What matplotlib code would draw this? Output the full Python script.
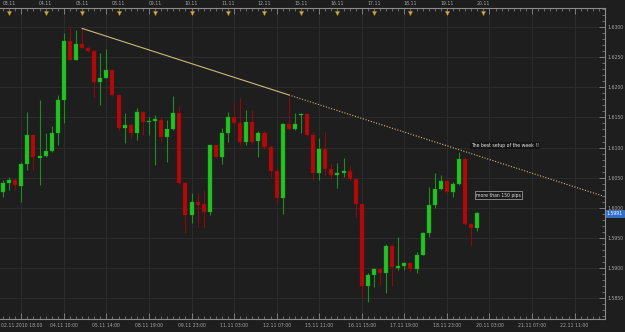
import matplotlib
matplotlib.use("Agg")
import matplotlib.pyplot as plt
from matplotlib.ticker import FixedLocator, MultipleLocator
import numpy as np

# H4 candles, 02.11.2010 .. 19.11.2010
opens = [1.6026, 1.6041, 1.6046, 1.6036, 1.6073, 1.6121, 1.6083, 1.6086, 1.6094, 1.6124,
         1.6179, 1.6277, 1.6246, 1.6272, 1.6266, 1.6261, 1.6209, 1.6216, 1.6229, 1.6187,
         1.6133, 1.6138, 1.6124, 1.6159, 1.6143, 1.6144, 1.6146, 1.6118, 1.6131, 1.6158,
         1.6041, 1.5988, 1.6010, 1.6006, 1.5993, 1.6104, 1.6084, 1.6124, 1.6151, 1.6141,
         1.6109, 1.6143, 1.6111, 1.6124, 1.6101, 1.6061, 1.6016, 1.6139, 1.6131, 1.6154,
         1.6156, 1.6121, 1.6058, 1.6098, 1.6064, 1.6055, 1.6058, 1.6061, 1.6048, 1.6006,
         1.5870, 1.5888, 1.5898, 1.5892, 1.5937, 1.5900, 1.5903, 1.5908, 1.5898, 1.5922,
         1.5958, 1.6005, 1.6031, 1.6045, 1.6026, 1.6040, 1.6081, 1.5973, 1.5966]
highs = [1.6046, 1.6051, 1.6049, 1.6076, 1.6159, 1.6123, 1.6179, 1.6124, 1.6136, 1.6187,
         1.6291, 1.6300, 1.6296, 1.6299, 1.6267, 1.6262, 1.6257, 1.6264, 1.6230, 1.6188,
         1.6158, 1.6141, 1.6166, 1.6160, 1.6151, 1.6154, 1.6151, 1.6146, 1.6186, 1.6169,
         1.6042, 1.6025, 1.6025, 1.6030, 1.6105, 1.6105, 1.6133, 1.6159, 1.6174, 1.6182,
         1.6163, 1.6163, 1.6128, 1.6128, 1.6104, 1.6068, 1.6141, 1.6184, 1.6158, 1.6158,
         1.6157, 1.6126, 1.6116, 1.6126, 1.6074, 1.6074, 1.6083, 1.6071, 1.6049, 1.6008,
         1.5892, 1.5900, 1.5900, 1.5939, 1.5939, 1.5951, 1.5910, 1.5910, 1.5927, 1.5960,
         1.6035, 1.6058, 1.6055, 1.6046, 1.6043, 1.6093, 1.6084, 1.5974, 1.5993]
lows = [1.6018, 1.6030, 1.6030, 1.6010, 1.6063, 1.6063, 1.6038, 1.6084, 1.6093, 1.6104,
        1.6141, 1.6245, 1.6245, 1.6265, 1.6259, 1.6184, 1.6171, 1.6215, 1.6185, 1.6129,
        1.6108, 1.6116, 1.6113, 1.6121, 1.6121, 1.6071, 1.6109, 1.6076, 1.6129, 1.6040,
        1.5958, 1.5975, 1.5968, 1.5966, 1.5988, 1.6083, 1.6073, 1.6109, 1.6138, 1.6104,
        1.6104, 1.6106, 1.6084, 1.6098, 1.6051, 1.6008, 1.5990, 1.6129, 1.6129, 1.6124,
        1.6119, 1.6046, 1.6046, 1.6055, 1.6048, 1.6033, 1.6051, 1.6046, 1.5985, 1.5852,
        1.5843, 1.5868, 1.5872, 1.5858, 1.5870, 1.5897, 1.5897, 1.5893, 1.5892, 1.5921,
        1.5951, 1.6000, 1.6030, 1.6025, 1.6018, 1.6038, 1.5972, 1.5938, 1.5961]
closes = [1.6041, 1.6046, 1.6038, 1.6073, 1.6121, 1.6084, 1.6086, 1.6094, 1.6124, 1.6179,
          1.6277, 1.6246, 1.6272, 1.6266, 1.6261, 1.6209, 1.6216, 1.6229, 1.6187, 1.6133,
          1.6138, 1.6124, 1.6159, 1.6143, 1.6144, 1.6148, 1.6118, 1.6131, 1.6158, 1.6041,
          1.5988, 1.6010, 1.6005, 1.5993, 1.6104, 1.6084, 1.6124, 1.6151, 1.6141, 1.6109,
          1.6143, 1.6109, 1.6124, 1.6101, 1.6061, 1.6016, 1.6139, 1.6131, 1.6139, 1.6156,
          1.6121, 1.6058, 1.6098, 1.6064, 1.6055, 1.6058, 1.6061, 1.6048, 1.6006, 1.5870,
          1.5888, 1.5898, 1.5892, 1.5937, 1.5902, 1.5903, 1.5908, 1.5898, 1.5922, 1.5958,
          1.6005, 1.6031, 1.6045, 1.6026, 1.6040, 1.6081, 1.5973, 1.5966, 1.5991]

bottom_tick_pos = [3, 10, 17, 24, 31, 38, 45, 52, 59, 66, 73, 80, 87, 94]
bottom_labels = ["02.11.2010 18:00", "04.11 10:00", "05.11 14:00", "08.11 19:00",
                 "09.11 23:00", "11.11 03:00", "12.11 07:00", "15.11 11:00",
                 "16.11 15:00", "17.11 19:00", "18.11 23:00", "20.11 03:00",
                 "21.11 07:00", "22.11 11:00"]
day_pos = [1, 7, 13, 19, 25, 31, 37, 43, 49, 55, 61, 67, 73, 79]
day_labels = ["03.11", "04.11", "05.11", "08.11", "09.11", "10.11", "11.11",
              "12.11", "15.11", "16.11", "17.11", "18.11", "19.11", "20.11"]

# trend line (index, price) and where it turns dotted
trend_x = [13, 98.5]
trend_y = [1.6298, 1.6020]
trend_break = 47

bg = "#1e1e1e"
grid_c = "#2b2b2b"
axis_c = "#8c8c8c"
txt_c = "#a8a8a8"
up_c, up_wick = "#22c422", "#1c8f1c"
dn_c, dn_wick = "#b00a0a", "#8c0a0a"
fs = 3.3

fig = plt.figure(figsize=(6.25, 3.32), dpi=100, facecolor=bg)
ax = fig.add_axes([0.0, 13 / 332, 605 / 625, 311 / 332], facecolor=bg)

o = np.array(opens); h = np.array(highs); l = np.array(lows); c = np.array(closes)
x = np.arange(len(o))
up = c >= o
body_lo = np.minimum(o, c)
body_h = np.maximum(np.abs(c - o), 0.00018)

ax.vlines(x[up], l[up], h[up], color=up_wick, lw=0.8, zorder=2)
ax.vlines(x[~up], l[~up], h[~up], color=dn_wick, lw=0.8, zorder=2)
ax.bar(x[up], body_h[up], bottom=body_lo[up], width=0.66, color=up_c,
       edgecolor="#189a18", lw=0.3, zorder=3)
ax.bar(x[~up], body_h[~up], bottom=body_lo[~up], width=0.66, color=dn_c,
       edgecolor="#8a0606", lw=0.3, zorder=3)

# trend line: solid first part, dotted after
slope = (trend_y[1] - trend_y[0]) / (trend_x[1] - trend_x[0])
yb = trend_y[0] + slope * (trend_break - trend_x[0])
ax.plot([trend_x[0], trend_break], [trend_y[0], yb], color="#cdb878", lw=0.8, zorder=4)
ax.plot([trend_break, trend_x[1]], [yb, trend_y[1]], color="#cdb878", lw=0.8,
        ls=(0, (1, 1.5)), zorder=4)

ax.set_xlim(-0.5, 99.0)
ax.set_ylim(1.58151, 1.63319)

# grid
ax.xaxis.set_major_locator(FixedLocator(bottom_tick_pos))
ax.xaxis.set_minor_locator(MultipleLocator(1))
ax.set_xticklabels(bottom_labels)
ax.yaxis.set_major_locator(MultipleLocator(0.005))
ax.yaxis.set_minor_locator(MultipleLocator(0.001))
ax.yaxis.tick_right()
ax.yaxis.set_major_formatter(matplotlib.ticker.FormatStrFormatter("%.4f"))
ax.grid(True, which="major", color=grid_c, lw=0.8)
ax.set_axisbelow(True)

ax.tick_params(axis="x", which="both", direction="in", colors=axis_c, labelcolor=txt_c,
               labelsize=fs, pad=3, top=True, bottom=True)
ax.tick_params(axis="x", which="major", length=4, width=0.6)
ax.tick_params(axis="x", which="minor", length=2, width=0.5)
ax.tick_params(axis="y", which="both", direction="in", colors=axis_c, labelcolor=txt_c,
               labelsize=fs, pad=2, left=False, right=True)
ax.tick_params(axis="y", which="major", length=4, width=0.6)
ax.tick_params(axis="y", which="minor", length=2, width=0.5)

for s in ["top", "bottom", "right"]:
    ax.spines[s].set_color(axis_c)
    ax.spines[s].set_linewidth(0.8)
ax.spines["left"].set_visible(False)

# day markers on the top scale
tx = ax.get_xaxis_transform()
ax.plot(day_pos, [0.985] * len(day_pos), ls="none", marker="v", ms=3.2,
        color="#d8b040", mec="#8a7020", mew=0.3, transform=tx, clip_on=False, zorder=5)
for p, lab in zip(day_pos, day_labels):
    ax.text(p, 1.0135, lab, transform=tx, ha="center", va="center",
            fontsize=fs, color=txt_c)

# notes
ax.text(77.0, 1.6104, "The best setup of the week !!", fontsize=fs, color="#e8e8e8",
        ha="left", va="center", zorder=6,
        bbox=dict(boxstyle="square,pad=0.2", fc="#151515", ec="none"))
ax.text(77.8, 1.6021, "more than 150 pips", fontsize=fs, color="#e0e0e0",
        ha="left", va="center", zorder=6,
        bbox=dict(boxstyle="square,pad=0.3", fc="#1a1a1a", ec="#b0b0b0", lw=0.5))

# last price tag
ax.text(1.003, closes[-1], "%.4f" % closes[-1], transform=ax.get_yaxis_transform(),
        ha="left", va="center", fontsize=fs, color="white", zorder=7, clip_on=False,
        bbox=dict(boxstyle="square,pad=0.25", fc="#2e6fd0", ec="#5a90e0", lw=0.4))

fig.savefig("out.png", dpi=100, facecolor=bg)
